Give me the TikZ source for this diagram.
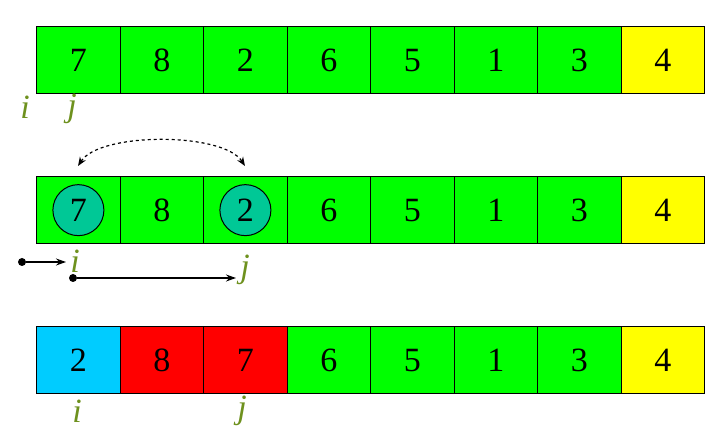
\documentclass[tikz,border=0pt]{standalone}
\usepackage{fontspec}
\setmainfont{Liberation Serif}
\usetikzlibrary{arrows.meta}
\definecolor{cgreen}{RGB}{0,255,0}
\definecolor{cyellow}{RGB}{255,255,0}
\definecolor{ccyan}{RGB}{0,204,255}
\definecolor{cred}{RGB}{255,0,0}
\definecolor{cteal}{RGB}{0,200,150}
\definecolor{clabel}{RGB}{110,145,30}
\begin{document}
\begin{tikzpicture}[x=1pt,y=-1pt,
  cell/.style={draw=black,line width=1.3pt,minimum width=83.5pt,minimum height=67pt,inner sep=0pt,anchor=north west,font=\fontsize{34}{38}\selectfont},
  lbl/.style={font=\fontsize{34}{38}\selectfont\itshape,text=clabel,inner sep=0pt},
  ball/.style={circle,draw=black,line width=1pt,fill=cteal,minimum size=51pt,inner sep=0pt,font=\fontsize{34}{38}\selectfont},
  dot/.style={circle,fill=black,inner sep=0pt,minimum size=8pt},
  ptr/.style={-{Stealth[length=10pt,width=7pt]},line width=1.2pt}]
\useasboundingbox (0,0) rectangle (726,446);
% row 1
\foreach \v/\c [count=\k from 0] in {7/cgreen,8/cgreen,2/cgreen,6/cgreen,5/cgreen,1/cgreen,3/cgreen,4/cyellow}
  \node[cell,fill=\c] (a\k) at (36+\k*83.5,26) {\v};
\node[lbl] (ai) at (25,107) {i};
\node[lbl] (aj) at (72,109) {j};
% row 2
\foreach \v/\c [count=\k from 0] in {{}/cgreen,8/cgreen,{}/cgreen,6/cgreen,5/cgreen,1/cgreen,3/cgreen,4/cyellow}
  \node[cell,fill=\c] (b\k) at (36+\k*83.5,176) {\v};
\node[ball] (c7) at (b0.center) {7};
\node[ball] (c2) at (b2.center) {2};
\coordinate (s1) at (78,166);
\coordinate (s2) at (245,166);
\draw[dashed,line width=1.2pt,{Stealth[length=9pt,width=7pt]}-{Stealth[length=9pt,width=7pt]}] (s1) .. controls (100,132) and (223,132) .. (s2);
\node[lbl] (bi) at (75,261) {i};
\node[lbl] (bj) at (245,270) {j};
\node[dot] (d1) at (22,262) {};
\node[dot] (d2) at (73,278) {};
\draw[ptr] (d1) -- (66,262);
\draw[ptr] (d2) -- (236,278);
% row 3
\foreach \v/\c [count=\k from 0] in {2/ccyan,8/cred,7/cred,6/cgreen,5/cgreen,1/cgreen,3/cgreen,4/cyellow}
  \node[cell,fill=\c] (r\k) at (36+\k*83.5,326) {\v};
\node[lbl] (ri) at (77,411) {i};
\node[lbl] (rj) at (242,411) {j};
\end{tikzpicture}
\end{document}
